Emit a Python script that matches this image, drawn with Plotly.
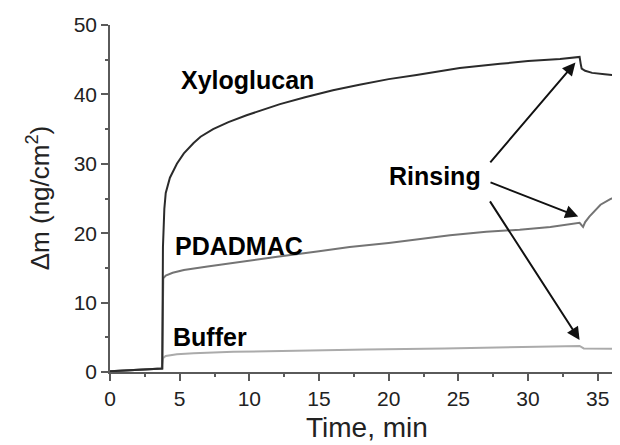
import plotly.graph_objects as go

# ---- data ----
xylo_t = [0, 1.5, 3.0, 3.75, 3.8, 3.9, 4.0, 4.3, 4.8, 5.3, 6.0, 6.5, 7.4, 8.5, 9.8, 10.8, 12.2, 14.0,
          16.0, 17.9, 20.0, 22.0, 25.1, 28.0, 30.0, 32.3, 33.7, 33.78, 33.85, 34.1, 34.6, 35.5, 36.6]
xylo_v = [0.1, 0.3, 0.4, 0.5, 18.0, 23.5, 25.8, 28.0, 30.0, 31.5, 33.0, 33.9, 35.0, 36.0, 37.0, 37.7, 38.6, 39.6,
          40.6, 41.4, 42.2, 42.8, 43.8, 44.4, 44.8, 45.1, 45.4, 44.4, 43.7, 43.4, 43.1, 42.9, 42.7]

pdadmac_t = [0, 1.5, 3.0, 3.75, 3.82, 4.0, 4.5, 5.3, 7.0, 10.0, 12.0, 15.0, 17.2, 20.0, 24.4, 27.0,
             29.4, 31.6, 33.7, 33.95, 34.1, 34.4, 34.7, 35.2, 35.9, 36.6]
pdadmac_v = [0.1, 0.3, 0.4, 0.5, 13.5, 13.9, 14.3, 14.7, 15.2, 16.1, 16.6, 17.4, 18.0, 18.6, 19.7, 20.2,
             20.5, 20.9, 21.5, 20.9, 21.6, 22.4, 23.1, 24.1, 24.9, 25.5]

buffer_t = [0, 1.5, 3.0, 3.7, 3.8, 4.0, 4.8, 6.0, 8.85, 12.0, 18.4, 24.0, 28.0, 33.7, 34.0, 35.0, 36.6]
buffer_v = [0.1, 0.3, 0.4, 0.5, 2.0, 2.3, 2.55, 2.7, 2.9, 3.05, 3.26, 3.4, 3.5, 3.75, 3.4, 3.35, 3.35]

labels = ["Xyloglucan", "PDADMAC", "Buffer"]
label_pos = [(9.85, 42.1), (9.25, 18.2), (7.2, 5.0)]
rinse_label = "Rinsing"
rinse_pos = (23.35, 28.3)
arrow_tails = [(27.2, 30.0), (27.2, 27.4), (27.2, 24.8)]
arrow_heads = [(33.4, 44.6), (33.6, 22.4), (33.7, 4.6)]

x_ticks = [0, 5, 10, 15, 20, 25, 30, 35]
y_ticks = [0, 10, 20, 30, 40, 50]
x_title = "Time, min"
y_title = "Δm (ng/cm<sup>2</sup>)"

FONT = "Liberation Sans, Arial, sans-serif"

fig = go.Figure()
fig.add_trace(go.Scatter(x=buffer_t, y=buffer_v, mode="lines",
                         line=dict(color="#ababab", width=2), showlegend=False))
fig.add_trace(go.Scatter(x=pdadmac_t, y=pdadmac_v, mode="lines",
                         line=dict(color="#747474", width=2), showlegend=False))
fig.add_trace(go.Scatter(x=xylo_t, y=xylo_v, mode="lines",
                         line=dict(color="#2b2b2b", width=2), showlegend=False))

for txt, (x, y) in zip(labels, label_pos):
    fig.add_annotation(x=x, y=y, xref="x", yref="y", text="<b>%s</b>" % txt, showarrow=False,
                       xanchor="center", yanchor="middle",
                       font=dict(family=FONT, size=25, color="#000"))
fig.add_annotation(x=rinse_pos[0], y=rinse_pos[1], xref="x", yref="y", text="<b>%s</b>" % rinse_label,
                   showarrow=False, xanchor="center", yanchor="middle",
                   font=dict(family=FONT, size=25, color="#000"))

for (tx, ty), (hx, hy) in zip(arrow_tails, arrow_heads):
    fig.add_annotation(x=hx, y=hy, ax=tx, ay=ty, xref="x", yref="y", axref="x", ayref="y",
                       text="", showarrow=True, arrowhead=2, arrowsize=1.3, arrowwidth=2,
                       arrowcolor="#111", standoff=0, startstandoff=0)

# axis titles as annotations for exact placement
fig.add_annotation(x=0.504, y=-0.161, xref="paper", yref="paper", text=x_title, showarrow=False,
                   xanchor="center", yanchor="middle",
                   font=dict(family=FONT, size=28, color="#222"))
fig.add_annotation(x=-0.141, y=0.501, xref="paper", yref="paper", text=y_title, showarrow=False,
                   xanchor="center", yanchor="middle",
                   textangle=-90, font=dict(family=FONT, size=26, color="#222"))

axis_common = dict(showline=True, linecolor="#5a5a5a", linewidth=1.5, ticks="outside", ticklen=7,
                   tickcolor="#5a5a5a", tickwidth=1.5, showgrid=False, zeroline=False, automargin=False,
                   tickfont=dict(family=FONT, size=21, color="#222"))

fig.update_layout(
    width=620, height=445,
    margin=dict(l=102, r=8, t=17, b=81),
    paper_bgcolor="white", plot_bgcolor="white",
    xaxis=dict(range=[0, 36.6], tickvals=x_ticks,
               minor=dict(ticks="outside", ticklen=3, dtick=2.5, tick0=0, tickcolor="#5a5a5a", tickwidth=1.5),
               **axis_common),
    yaxis=dict(range=[0, 50], tickvals=y_ticks,
               minor=dict(ticks="outside", ticklen=3, dtick=5, tick0=0, tickcolor="#5a5a5a", tickwidth=1.5),
               **axis_common),
)

fig.write_html("out.html")
